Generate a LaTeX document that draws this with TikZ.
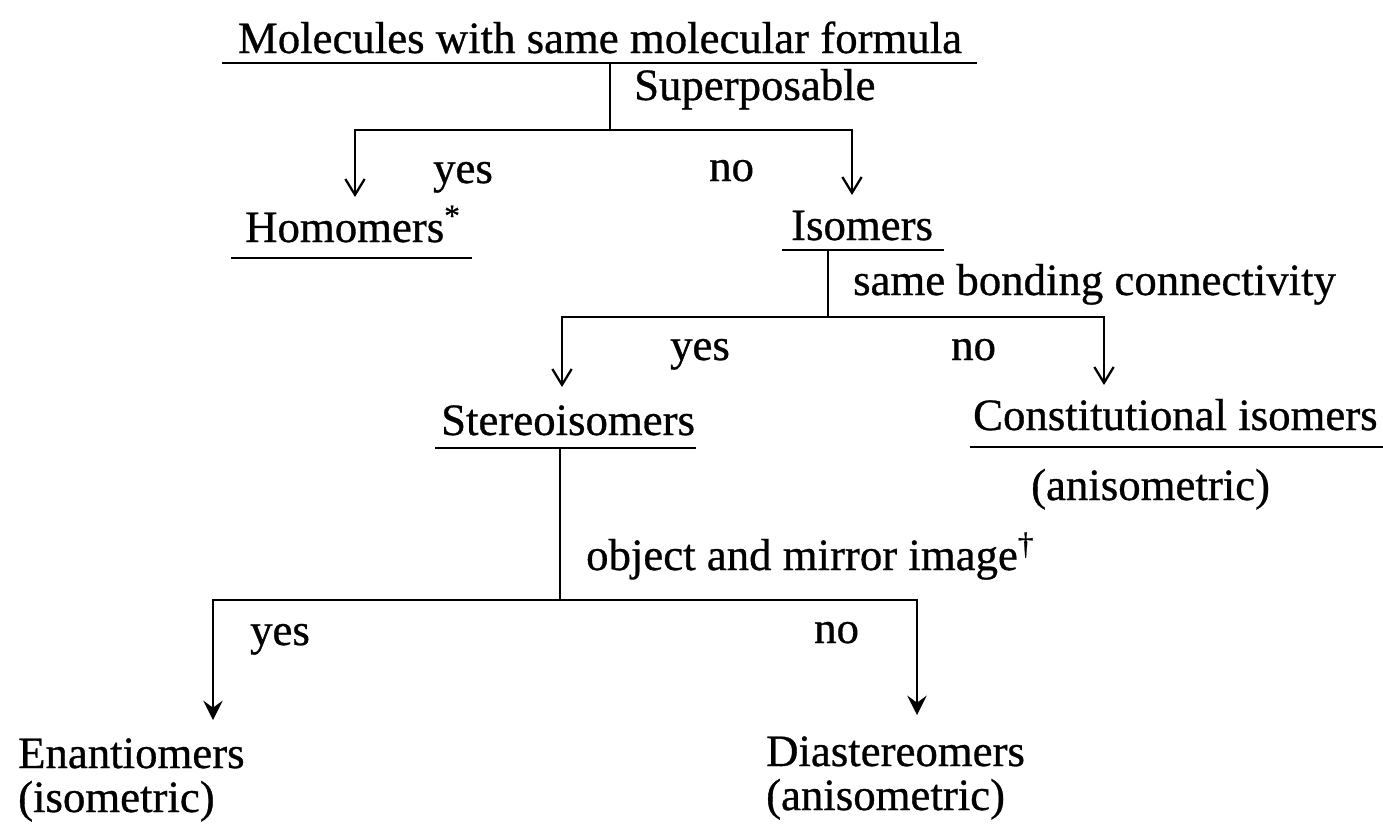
\documentclass[tikz,border=0pt]{standalone}
\usepackage{fontspec}
\setmainfont{Liberation Serif}[FakeBold=0.7]
\usetikzlibrary{arrows.meta, positioning}

\begin{document}
\begin{tikzpicture}[x=0.02cm, y=-0.02cm, line width=1.3pt,
    txt/.style={inner sep=0pt, font=\fontsize{25.5}{30}\selectfont},
    dn/.style={-{Straight Barb[length=9pt,width=11pt]}},
    dnfill/.style={-{Stealth[length=11pt,width=11pt,inset=4pt]}}]
    \useasboundingbox (0,0) rectangle (1383,829);
    % classes
    \node[txt, anchor=base] (mol) at (600,53) {Molecules with same molecular formula};
    \node[txt, anchor=base west] (homo) at (244,242) {Homomers\textsuperscript{*}};
    \node[txt, anchor=base west] (iso) at (790,240) {Isomers};
    \node[txt, anchor=base west] (stereo) at (440,435) {Stereoisomers};
    \node[txt, anchor=base west] (const) at (972,430) {Constitutional isomers};
    \node[txt, anchor=base west] (constnote) at (1030,500) {(anisometric)};
    \node[txt, anchor=base west] (enan) at (17,768) {Enantiomers};
    \node[txt, anchor=base west] (enannote) at (17,812) {(isometric)};
    \node[txt, anchor=base west] (dia) at (765,766) {Diastereomers};
    \node[txt, anchor=base west] (dianote) at (765,810) {(anisometric)};
    % underlines
    \draw ([shift={(-15,10)}]mol.base west) -- ([shift={(14,10)}]mol.base east);
    \draw ([shift={(-13,16)}]homo.base west) -- ([shift={(10,16)}]homo.base east);
    \draw ([shift={(-8,10)}]iso.base west) -- ([shift={(10,10)}]iso.base east);
    \draw ([shift={(-5,13)}]stereo.base west) -- ([shift={(0,13)}]stereo.base east);
    \draw ([shift={(-2,17)}]const.base west) -- ([shift={(30,17)}]const.base east);
    % questions
    \node[txt, anchor=base west] (sup) at (633,100) {Superposable};
    \node[txt, anchor=base west] (bond) at (852,295) {same bonding connectivity};
    \node[txt, anchor=base west] (mirror) at (585,570) {object and mirror image\textsuperscript{\textdagger}};
    % answers
    \node[txt, anchor=base west] (yes1) at (432,183) {yes};
    \node[txt, anchor=base west] (no1) at (708,181) {no};
    \node[txt, anchor=base west] (yes2) at (669,360) {yes};
    \node[txt, anchor=base west] (no2) at (950,360) {no};
    \node[txt, anchor=base west] (yes3) at (249,645) {yes};
    \node[txt, anchor=base west] (no3) at (813,643) {no};
    % branch points
    \coordinate (molstem) at (610,63);
    \coordinate (j1) at (610,130);
    \coordinate (homoin) at (355,197);
    \coordinate (isoin) at (852,195);
    \coordinate (isostem) at (828,250);
    \coordinate (j2) at (828,317);
    \coordinate (stereoin) at (562,387);
    \coordinate (constin) at (1104,385);
    \coordinate (stereostem) at (560,448);
    \coordinate (j3) at (560,600);
    \coordinate (enanin) at (213,720);
    \coordinate (diain) at (917,715);
    % tree
    \draw (molstem) -- (j1);
    \draw[dn] (j1) -| (homoin);
    \draw[dn] (j1) -| (isoin);
    \draw (isostem) -- (j2);
    \draw[dn] (j2) -| (stereoin);
    \draw[dn] (j2) -| (constin);
    \draw (stereostem) -- (j3);
    \draw[dnfill] (j3) -| (enanin);
    \draw[dnfill] (j3) -| (diain);
\end{tikzpicture}
\end{document}
